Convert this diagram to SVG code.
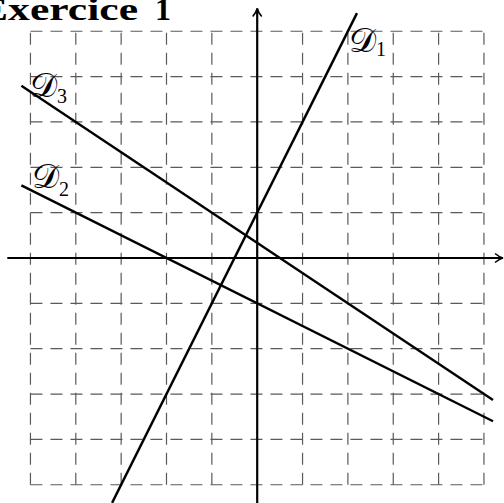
<svg xmlns="http://www.w3.org/2000/svg" width="504" height="503" viewBox="0 0 504 503">
<style>
.grid{stroke:#5a5a5a;stroke-width:1.2;stroke-dasharray:12 8;fill:none}
.axis{stroke:#000;stroke-width:2.2;fill:none}
.dr{stroke:#000;stroke-width:2.4;fill:none;stroke-linecap:butt}
.title{font-family:"Liberation Serif",serif;font-weight:bold;font-size:32px;fill:#000}
.lab{font-family:"DejaVu Serif","DejaVu Sans","Liberation Serif",serif;font-size:34px;fill:#000}
.sub{font-family:"Liberation Serif",serif;font-size:20px}
</style>
<defs>
<marker id="arr" viewBox="-10 -6 12 12" refX="0" refY="0" markerWidth="12" markerHeight="12" markerUnits="userSpaceOnUse" orient="auto">
<path d="M-8,-4.5 C-5,-2 -2,-0.5 0,0 C-2,0.5 -5,2 -8,4.5" fill="none" stroke="#000" stroke-width="1.6"/>
</marker>
</defs>
<rect width="504" height="503" fill="#fff"/>
<g id="grid">
<line class="grid" x1="30.45" y1="484.75" x2="30.45" y2="31.25"/>
<line class="grid" x1="75.8" y1="484.75" x2="75.8" y2="31.25"/>
<line class="grid" x1="121.15" y1="484.75" x2="121.15" y2="31.25"/>
<line class="grid" x1="166.5" y1="484.75" x2="166.5" y2="31.25"/>
<line class="grid" x1="211.85" y1="484.75" x2="211.85" y2="31.25"/>
<line class="grid" x1="302.55" y1="484.75" x2="302.55" y2="31.25"/>
<line class="grid" x1="347.9" y1="484.75" x2="347.9" y2="31.25"/>
<line class="grid" x1="393.25" y1="484.75" x2="393.25" y2="31.25"/>
<line class="grid" x1="438.6" y1="484.75" x2="438.6" y2="31.25"/>
<line class="grid" x1="483.95" y1="484.75" x2="483.95" y2="31.25"/>
<line class="grid" x1="30.45" y1="31.25" x2="483.95" y2="31.25"/>
<line class="grid" x1="30.45" y1="76.6" x2="483.95" y2="76.6"/>
<line class="grid" x1="30.45" y1="121.95" x2="483.95" y2="121.95"/>
<line class="grid" x1="30.45" y1="167.3" x2="483.95" y2="167.3"/>
<line class="grid" x1="30.45" y1="212.65" x2="483.95" y2="212.65"/>
<line class="grid" x1="30.45" y1="303.35" x2="483.95" y2="303.35"/>
<line class="grid" x1="30.45" y1="348.7" x2="483.95" y2="348.7"/>
<line class="grid" x1="30.45" y1="394.05" x2="483.95" y2="394.05"/>
<line class="grid" x1="30.45" y1="439.4" x2="483.95" y2="439.4"/>
<line class="grid" x1="30.45" y1="484.75" x2="483.95" y2="484.75"/>
</g>
<g id="axes">
<line class="axis" x1="7.3" y1="258" x2="503" y2="258" marker-end="url(#arr)"/>
<line class="axis" x1="257.2" y1="506" x2="257.2" y2="8.5" marker-end="url(#arr)"/>
</g>
<g id="title">
<text class="title" x="-21" y="20"><tspan textLength="159" lengthAdjust="spacingAndGlyphs">Exercice</tspan> <tspan x="155">1</tspan></text>
</g>
<g id="D1">
<line class="dr" x1="112.08" y1="502.9" x2="356.97" y2="13.1"/>
<text class="lab" x="349" y="52">𝒟<tspan class="sub" x="376" y="56">1</tspan></text>
</g>
<g id="D2">
<line class="dr" x1="21.38" y1="185.44" x2="493.02" y2="421.26"/>
<text class="lab" x="32" y="188">𝒟<tspan class="sub" x="59" y="196">2</tspan></text>
</g>
<g id="D3">
<line class="dr" x1="21.38" y1="85.67" x2="493.02" y2="400.1"/>
<text class="lab" x="30" y="97">𝒟<tspan class="sub" x="57" y="103">3</tspan></text>
</g>
</svg>
